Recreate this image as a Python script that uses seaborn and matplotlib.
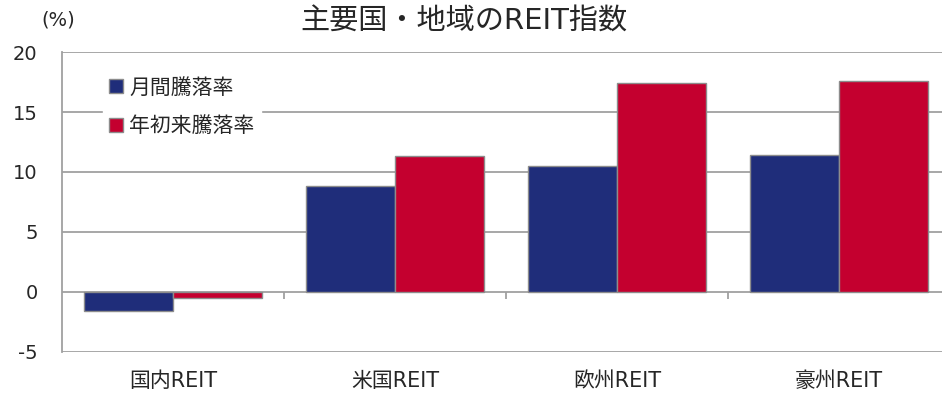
import pandas as pd
import seaborn as sns
import matplotlib.pyplot as plt
from matplotlib.transforms import blended_transform_factory

# data
regions = ['国内REIT', '米国REIT', '欧州REIT', '豪州REIT']
monthly = [-1.6, 8.8, 10.5, 11.4]
ytd = [-0.5, 11.3, 17.4, 17.6]
series_names = ['月間騰落率', '年初来騰落率']
y_ticks = [-5, 0, 5, 10, 15, 20]

df = pd.DataFrame({
    'region': regions * 2,
    'value': monthly + ytd,
    'series': [series_names[0]] * 4 + [series_names[1]] * 4,
})

sns.set_style('white')
plt.rcParams['font.family'] = ['DejaVu Sans', 'Noto Sans CJK JP']
plt.rcParams['axes.unicode_minus'] = False

fig = plt.figure(figsize=(9.42, 3.97), dpi=100)
ax = fig.add_axes([0.0658, 0.1134, 0.9342, 0.7556])

grid_c = '#a0a0a0'
for y in y_ticks:
    ax.axhline(y, color=grid_c, lw=1.3, zorder=0)

sns.barplot(data=df, x='region', y='value', hue='series', order=regions,
            hue_order=series_names, palette=['#1f2d7a', '#c4002f'],
            width=0.8, gap=0, edgecolor='#8c8c8c', linewidth=1.0,
            saturation=1, ax=ax, zorder=2)

ax.set_xlim(-0.5, 3.464)
ax.set_ylim(-5, 20)
ax.set_yticks(y_ticks)
ax.set_xlabel('')
ax.set_ylabel('')

for s in ['top', 'right', 'bottom']:
    ax.spines[s].set_visible(False)
ax.spines['left'].set_color(grid_c)
ax.spines['left'].set_linewidth(1.3)

ax.tick_params(axis='y', direction='inout', length=11, width=1.3,
               color=grid_c, labelsize=14, pad=12)
ax.tick_params(axis='x', length=0, labelsize=15, pad=14)

# category separator ticks on the zero line
trans = blended_transform_factory(ax.transData, ax.transData)
ax.vlines([0.5, 1.5, 2.5], -0.55, 0, color=grid_c, lw=1.3, transform=trans, zorder=1)

leg = ax.legend(loc='upper left', bbox_to_anchor=(0.035, 0.97), frameon=True,
                fontsize=15, handlelength=0.65, handleheight=0.65,
                handletextpad=0.3, labelspacing=0.9, borderpad=0.3)
leg.get_frame().set_edgecolor('white')
leg.get_frame().set_facecolor('white')
leg.get_frame().set_alpha(1)

fig.text(0.492, 0.945, '主要国・地域のREIT指数', ha='center', va='center', fontsize=21)
fig.text(0.0616, 0.95, '(%)', ha='center', va='center', fontsize=14)

fig.savefig('out.png', dpi=100)
